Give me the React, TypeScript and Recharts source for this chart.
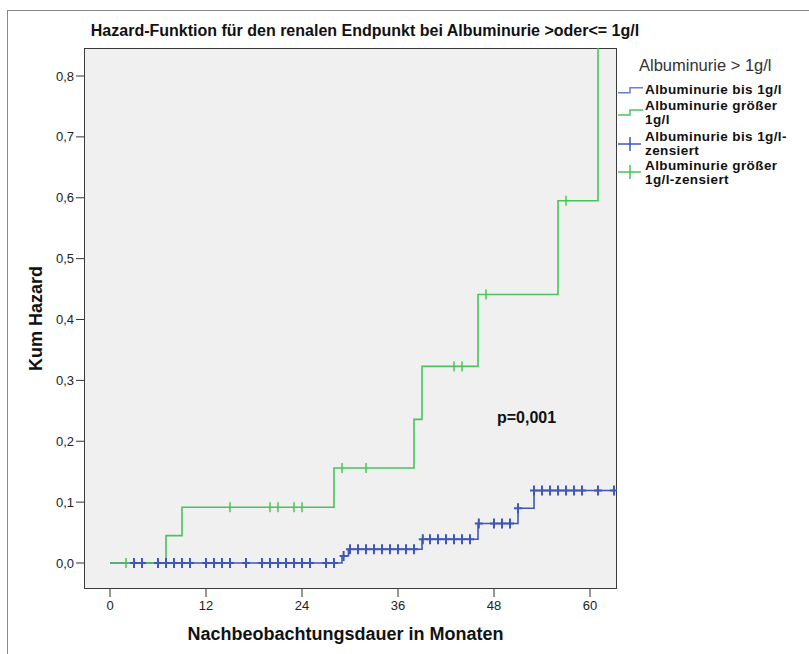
import { ComposedChart, Line, Scatter, XAxis, YAxis } from 'recharts'

const FONT = "'Liberation Sans', Arial, sans-serif"
const BLUE = '#3f57b5'
const GREEN = '#48c459'

const monthTicks = [0, 12, 24, 36, 48, 60]
const hazardTicks = [0, 0.1, 0.2, 0.3, 0.4, 0.5, 0.6, 0.7, 0.8]

// Albuminurie bis 1g/l: Ereigniszeitpunkte (Monate) und kumulierter Hazard
const blueTimes = [0, 29, 29.8, 39, 46, 51, 53, 63.1]
const blueHazard = [0, 0.0115, 0.0225, 0.039, 0.065, 0.09, 0.119, 0.119]

// Albuminurie größer 1g/l (letzter Schritt läuft über den oberen Rand hinaus)
const greenTimes = [0, 7, 9, 28, 38, 39, 46, 56, 61]
const greenHazard = [0, 0.045, 0.0915, 0.156, 0.236, 0.323, 0.441, 0.595, 1.0]

// zensierte Fälle
const blueCensTimes = [
  3, 4, 6, 7, 8, 9, 10, 12, 13, 14, 15, 17, 19, 20, 21, 22, 23, 24, 25, 27, 28,
  29.2, 30, 31, 32, 33, 34, 35, 36, 37, 38,
  39.1, 40, 41, 42, 43, 44, 45,
  46.1, 48, 49, 50, 51,
  53, 54, 55, 56, 57, 58, 59, 61, 63,
]
const blueCensHazard = [
  0, 0, 0, 0, 0, 0, 0, 0, 0, 0, 0, 0, 0, 0, 0, 0, 0, 0, 0, 0, 0,
  0.0115, 0.0225, 0.0225, 0.0225, 0.0225, 0.0225, 0.0225, 0.0225, 0.0225, 0.0225,
  0.039, 0.039, 0.039, 0.039, 0.039, 0.039, 0.039,
  0.065, 0.065, 0.065, 0.065, 0.09,
  0.119, 0.119, 0.119, 0.119, 0.119, 0.119, 0.119, 0.119, 0.119,
]
const greenCensTimes = [2, 15, 20, 21, 23, 24, 29, 32, 43, 44, 47, 57]
const greenCensHazard = [0, 0.0915, 0.0915, 0.0915, 0.0915, 0.0915, 0.156, 0.156, 0.323, 0.323, 0.441, 0.595]

const toPoints = (xs: number[], ys: number[]) => xs.map((x, i) => ({ x, y: ys[i] }))

const blueLine = toPoints(blueTimes, blueHazard)
const greenLine = toPoints(greenTimes, greenHazard)
const blueCens = toPoints(blueCensTimes, blueCensHazard)
const greenCens = toPoints(greenCensTimes, greenCensHazard)

const comma = (v: number) => v.toFixed(1).replace('.', ',')

function BlueCross(p: any) {
  return <path d={`M${p.cx - 4},${p.cy}h8M${p.cx},${p.cy - 5}v10`} stroke={BLUE} strokeWidth={2} fill="none" />
}

function GreenTick(p: any) {
  return <path d={`M${p.cx},${p.cy - 5}v10`} stroke={GREEN} strokeWidth={1.5} fill="none" />
}

function XTitle({ viewBox }: any) {
  return (
    <text x={viewBox.x + viewBox.width / 2 - 5} y={634} textAnchor="middle" dominantBaseline="central"
      fontFamily={FONT} fontSize={18} fontWeight="bold" fill="#111">
      Nachbeobachtungsdauer in Monaten
    </text>
  )
}

function YTitle({ viewBox }: any) {
  const x = viewBox.x + 2
  const y = viewBox.y + viewBox.height / 2
  return (
    <text x={x} y={y} transform={`rotate(-90 ${x} ${y})`} textAnchor="middle" dominantBaseline="central"
      fontFamily={FONT} fontSize={18} fontWeight="bold" fill="#111">
      Kum Hazard
    </text>
  )
}

const legendText = {
  position: 'absolute', left: 645, fontFamily: FONT, fontSize: 13.5, fontWeight: 'bold',
  lineHeight: '13.5px', letterSpacing: '0.4px', color: '#111', whiteSpace: 'nowrap',
} as const

export default function App() {
  return (
    <div style={{ position: 'absolute', left: 0, top: 0, width: 809, height: 654, background: '#fff', overflow: 'hidden' }}>
      {/* Rahmen */}
      <div style={{ position: 'absolute', left: 7, top: 10, width: 802, height: 644, borderLeft: '1px solid #888', borderTop: '1px solid #888' }} />
      {/* Plotfläche */}
      <div style={{ position: 'absolute', left: 84, top: 48, width: 533, height: 541, boxSizing: 'border-box', background: '#f0f0f0', border: '1px solid #3a3a3a' }} />

      <div style={{ position: 'absolute', left: 65, top: 21, width: 600, textAlign: 'center', fontFamily: FONT, fontSize: 16, fontWeight: 'bold', lineHeight: '20px', color: '#111', whiteSpace: 'nowrap' }}>
        Hazard-Funktion für den renalen Endpunkt bei Albuminurie &gt;oder&lt;= 1g/l
      </div>

      <div style={{ position: 'absolute', left: 0, top: 0 }}>
        <ComposedChart width={809} height={654} margin={{ top: 48, right: 192, bottom: 35, left: 34 }}>
          <XAxis
            dataKey="x"
            type="number"
            domain={[-3.2526, 63.372]}
            allowDataOverflow
            ticks={monthTicks}
            axisLine={false}
            tickLine={{ stroke: '#333' }}
            tickSize={8}
            tickMargin={4}
            height={30}
            tick={{ fill: '#222', fontSize: 13, fontFamily: FONT }}
            label={{ content: XTitle }}
          />
          <YAxis
            dataKey="y"
            type="number"
            domain={[-0.0427, 0.846]}
            allowDataOverflow
            ticks={hazardTicks}
            tickFormatter={comma}
            axisLine={false}
            tickLine={{ stroke: '#333' }}
            tickSize={8}
            width={50}
            tick={{ fill: '#222', fontSize: 13, fontFamily: FONT }}
            label={{ content: YTitle }}
          />
          <Line data={blueLine} dataKey="y" type="stepAfter" stroke={BLUE} strokeWidth={1.6} dot={false} activeDot={false} isAnimationActive={false} />
          <Line data={greenLine} dataKey="y" type="stepAfter" stroke={GREEN} strokeWidth={1.6} dot={false} activeDot={false} isAnimationActive={false} />
          <Scatter data={blueCens} dataKey="y" shape={(p: any) => <BlueCross {...p} />} isAnimationActive={false} />
          <Scatter data={greenCens} dataKey="y" shape={(p: any) => <GreenTick {...p} />} isAnimationActive={false} />
        </ComposedChart>
      </div>

      <div style={{ position: 'absolute', left: 497, top: 409, fontFamily: FONT, fontSize: 16, fontWeight: 'bold', lineHeight: '18px', color: '#111' }}>
        p=0,001
      </div>

      {/* Legende */}
      <div style={{ position: 'absolute', left: 639, top: 56, fontFamily: FONT, fontSize: 16.5, lineHeight: '18px', color: '#333', whiteSpace: 'nowrap' }}>
        Albuminurie &gt; 1g/l
      </div>
      <svg style={{ position: 'absolute', left: 616, top: 80 }} width={30} height={104}>
        <path d="M2,12.7H14V7.7H27" stroke="#6a7fcf" strokeWidth={1.5} fill="none" />
        <path d="M2,35H14V30H27" stroke={GREEN} strokeWidth={1.5} fill="none" />
        <path d="M2,64H25M14,57V71" stroke={BLUE} strokeWidth={1.5} fill="none" />
        <path d="M2,92H25M14,85V99" stroke={GREEN} strokeWidth={1.5} fill="none" />
      </svg>
      <div style={{ ...legendText, top: 83 }}>Albuminurie bis 1g/l</div>
      <div style={{ ...legendText, top: 99 }}>Albuminurie größer<br />1g/l</div>
      <div style={{ ...legendText, top: 130 }}>Albuminurie bis 1g/l-<br />zensiert</div>
      <div style={{ ...legendText, top: 159 }}>Albuminurie größer<br />1g/l-zensiert</div>
    </div>
  )
}
